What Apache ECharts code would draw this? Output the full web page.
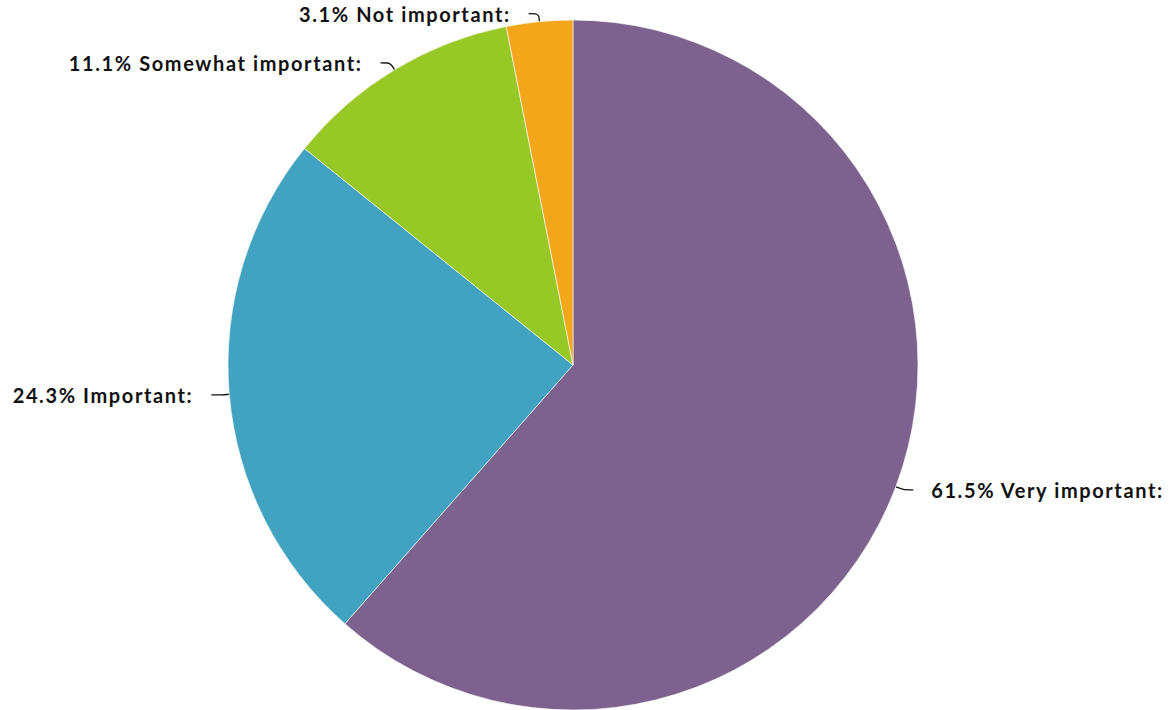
<!DOCTYPE html>
<html>
<head>
<meta charset="utf-8">
<script src="https://cdn.jsdelivr.net/npm/echarts@6/dist/echarts.min.js"></script>
<style>
html,body{margin:0;padding:0;background:#fff;}
#chart{width:1171px;height:710px;}
#chart text{letter-spacing:1.6px;}
</style>
</head>
<body>
<div id="chart"></div>
<script>
const categories = ['Very important', 'Important', 'Somewhat important', 'Not important'];
const values = [61.5, 24.3, 11.1, 3.1];
const colors = ['#7d618f', '#41a3c1', '#97c825', '#f4a61b'];

const chart = echarts.init(document.getElementById('chart'), null, { renderer: 'svg' });
chart.setOption({
  animation: false,
  series: [{
    type: 'pie',
    center: [573, 365],
    radius: 345,
    startAngle: 90,
    clockwise: true,
    color: colors,
    itemStyle: { borderColor: '#ffffff', borderWidth: 0.6 },
    label: {
      show: true,
      formatter: '{c}% {b}:',
      fontFamily: 'Lato',
      fontWeight: 'bold',
      fontSize: 20,
      color: '#111111',
      padding: [7, 0, 0, 0],
      distanceToLabelLine: 18
    },
    labelLine: {
      show: true,
      length: 8,
      length2: 10,
      smooth: true,
      lineStyle: { color: '#111111', width: 1.3 }
    },
    data: categories.map((c, i) => ({ name: c, value: values[i] }))
  }]
});
</script>
</body>
</html>
